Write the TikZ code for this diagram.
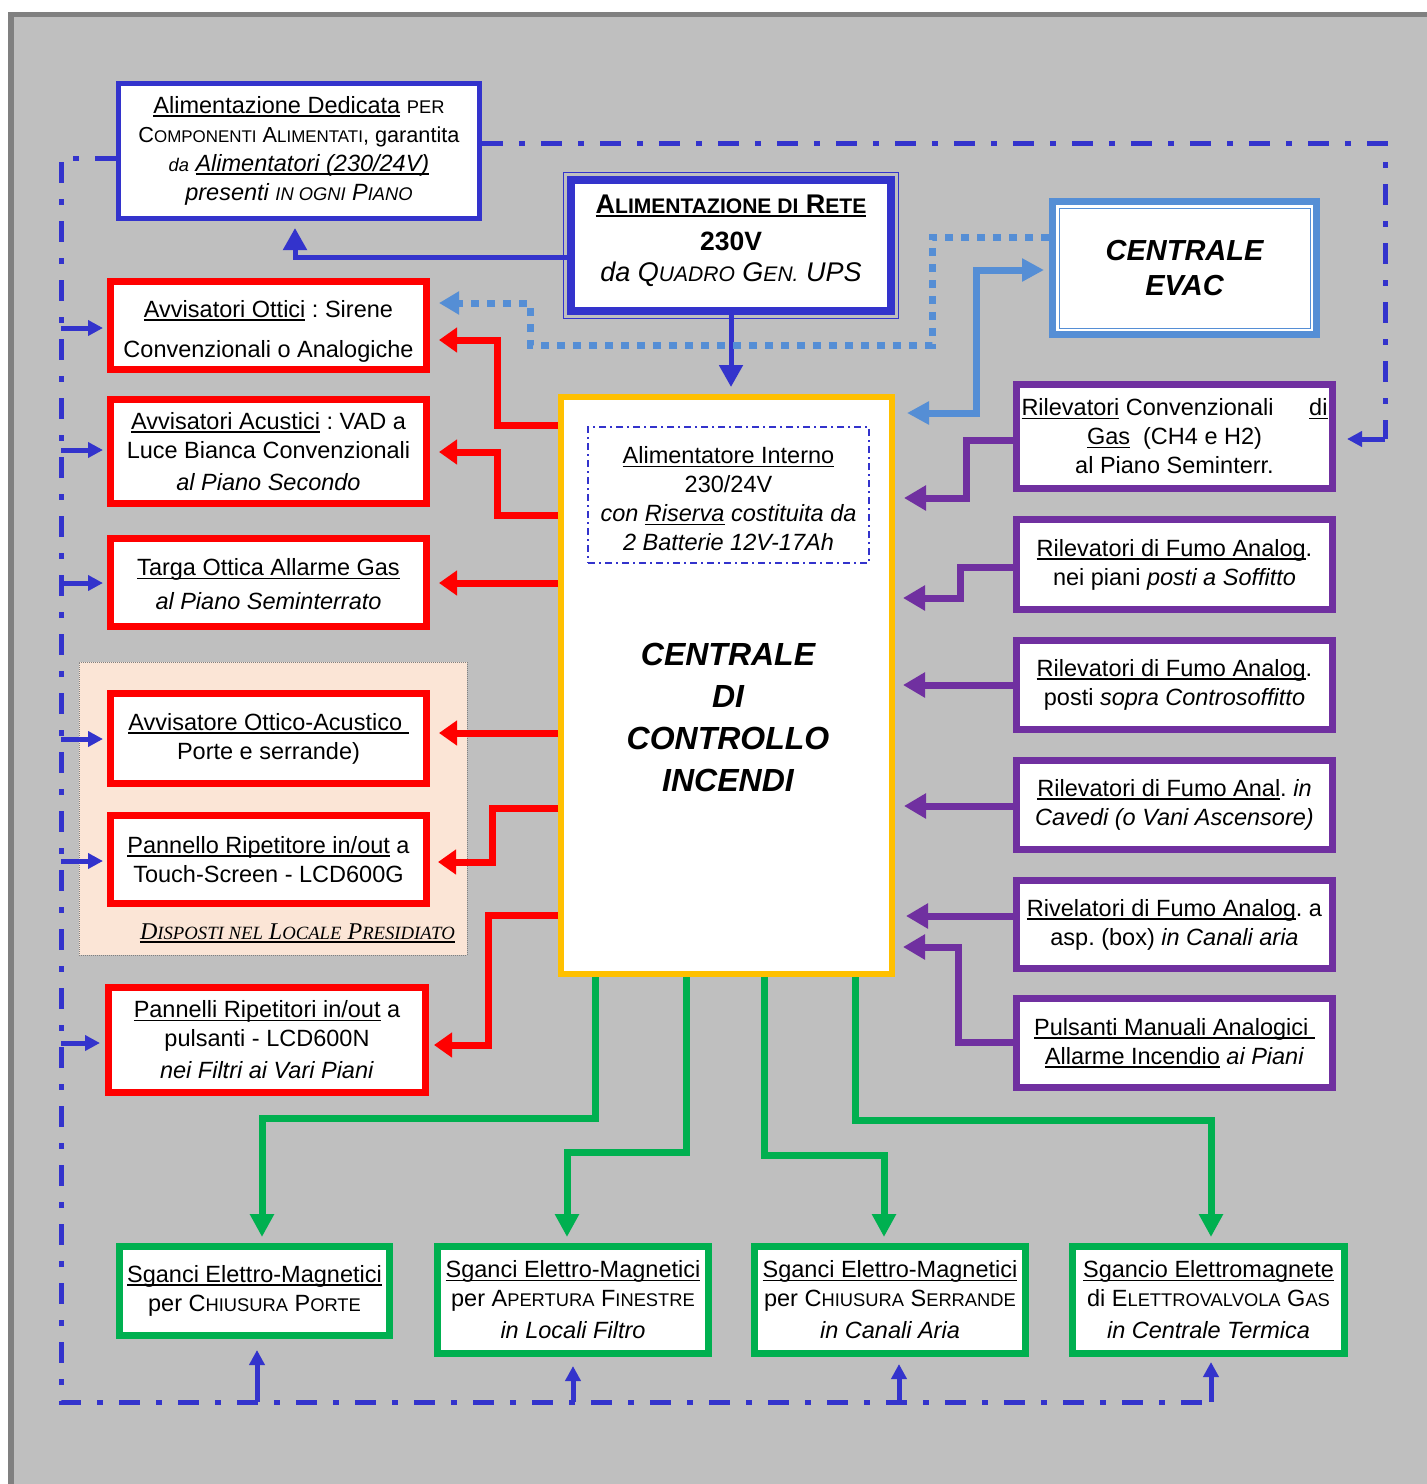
\documentclass[tikz,border=0pt]{standalone}
\usepackage{fontspec}
\setmainfont{Liberation Sans}
\newfontfamily\timesfont{Liberation Serif}
\usepackage{graphicx}
\usetikzlibrary{arrows.meta}

\definecolor{bggray}{HTML}{BFBFBF}
\definecolor{bordgray}{HTML}{808080}
\definecolor{fireblue}{HTML}{3333CC}
\definecolor{evacblue}{HTML}{558ED5}
\definecolor{firered}{HTML}{FF0000}
\definecolor{firepurple}{HTML}{7030A0}
\definecolor{firegreen}{HTML}{00B050}
\definecolor{fireyellow}{HTML}{FFC000}
\definecolor{peach}{HTML}{FBE5D6}

\newcommand{\smc}[1]{\scalebox{0.78}{#1}}
\newcommand{\undl}[1]{\leavevmode\setbox0=\hbox{#1}\rlap{\rule[-3.5pt]{\wd0}{1.8pt}}\box0\relax}
\frenchspacing

\tikzset{
  box/.style={rectangle, fill=white, align=center, inner sep=0pt, font=\fontsize{23.5}{29}\selectfont},
  boxsize/.style 2 args={minimum width=#1pt, minimum height=#2pt},
  redbox/.style={box, draw=firered, line width=7pt},
  purplebox/.style={box, draw=firepurple, line width=7pt},
  greenbox/.style={box, draw=firegreen, line width=7pt},
  redline/.style={draw=firered, line width=7pt, -{Triangle[length=18pt,width=24pt]}},
  purpleline/.style={draw=firepurple, line width=7pt, -{Triangle[length=22pt,width=24pt]}},
  greenline/.style={draw=firegreen, line width=7pt, -{Triangle[length=23pt,width=23pt]}},
  blueline/.style={draw=fireblue, line width=5pt, -{Triangle[length=22pt,width=23pt]}},
  evacline/.style={draw=evacblue, line width=7pt, {Triangle[length=22pt,width=22pt]}-{Triangle[length=22pt,width=22pt]}},
  evacdots/.style={draw=evacblue, line width=7pt, dash pattern=on 8pt off 8pt, -{Triangle[length=20pt,width=22pt]}},
  busline/.style={draw=fireblue, line width=5pt, dash pattern=on 21pt off 16pt on 6pt off 16pt},
  busarrow/.style={draw=fireblue, line width=5pt, -{Triangle[length=15pt,width=15pt]}}
}

\begin{document}
\begin{tikzpicture}[x=1pt,y=-1pt]

	\useasboundingbox (0,0) rectangle (1427,1484);
	\fill[white] (0,0) rectangle (1427,1484);
	\draw[draw=bordgray, fill=bggray, line width=5.5pt] (11,14.5) rectangle (1440,1500);

	\node[box, draw=fireblue, line width=5pt, boxsize={361}{135}] (dedicata) at (299,151)
		{\undl{Alimentazione Dedicata} \smc{PER}\\{\fontsize{21.7}{29}\selectfont C\smc{OMPONENTI} A\smc{LIMENTATI}, garantita}\\\textit{\smc{da} \undl{Alimentatori (230/24V)}}\\\textit{presenti \smc{IN OGNI} P\smc{IANO}}};
	\node[box, draw=fireblue, line width=8pt, boxsize={320}{131}, font=\fontsize{27}{31}\selectfont] (rete) at (731,245)
		{\textbf{\undl{A\smc{LIMENTAZIONE DI} R\smc{ETE}}}\\[6pt]{\fontsize{26.5}{31}\selectfont\textbf{230V}}\\\textit{da Q\smc{UADRO} G\smc{EN.} UPS}\rule[-14pt]{0pt}{14pt}};
	\draw[fireblue, line width=1pt] ([xshift=-3.5pt,yshift=3.5pt]rete.north west) rectangle ([xshift=3.5pt,yshift=-3.5pt]rete.south east);
	\node[box, draw=evacblue, line width=7pt, boxsize={264}{133}, font=\fontsize{29}{35}\selectfont\bfseries\itshape] (evac) at (1184.5,268) {CENTRALE\\EVAC};
	\draw[evacblue, line width=1pt] ([xshift=10pt,yshift=-10pt]evac.north west) rectangle ([xshift=-10pt,yshift=10pt]evac.south east);

	\node[box, draw=fireyellow, line width=6pt, boxsize={331}{577}] (cci) at (726.5,685.5) {};
	\node[box, draw=fireblue, line width=1.5pt, dash pattern=on 7pt off 4pt on 2pt off 4pt, boxsize={281}{136}] (alim) at (728.5,495)
		{\rule{0pt}{25pt}\undl{Alimentatore Interno}\\230/24V\\\textit{con \undl{Riserva} costituita da}\\\textit{2 Batterie 12V-17Ah}};
	\node[align=center, font=\fontsize{32}{42}\selectfont\bfseries\itshape] (ccitext) at (728,717) {CENTRALE\\DI\\CONTROLLO\\INCENDI};

	\node[rectangle, fill=peach, draw=gray, densely dotted, line width=1pt, minimum width=388pt, minimum height=293pt] (presidio) at (273,808.5) {};
	\node[anchor=base east, inner sep=0pt, font=\timesfont\itshape\fontsize{24}{28}\selectfont] (presidiotext) at (455,939)
		{\undl{D\smc{ISPOSTI NEL} L\smc{OCALE} P\smc{RESIDIATO}}};

	\node[redbox, boxsize={316}{88}] (ottici) at (268.5,325.5) {\rule{0pt}{29pt}\undl{Avvisatori Ottici} : Sirene\\[11pt]Convenzionali o Analogiche};
	\node[redbox, boxsize={316}{104}] (acustici) at (268.5,451.5) {\undl{Avvisatori Acustici} : VAD a\\Luce Bianca Convenzionali\\[3pt]\textit{al Piano Secondo}};
	\node[redbox, boxsize={316}{88}] (targa) at (268.5,582.5) {\rule{0pt}{21pt}\undl{Targa Ottica Allarme Gas}\\[5pt]\textit{al Piano Seminterrato}};
	\node[redbox, boxsize={316}{90}] (ottacu) at (268.5,738.5) {\undl{Avvisatore Ottico-Acustico\ }\\Porte e serrande)};
	\node[redbox, boxsize={316}{88}] (touch) at (268.5,859.5) {\undl{Pannello Ripetitore in/out} a\\Touch-Screen - LCD600G};
	\node[redbox, boxsize={317}{105}] (pulsrip) at (267,1040) {\undl{Pannelli Ripetitori in/out} a\\pulsanti - LCD600N\\[3pt]\textit{nei Filtri ai Vari Piani}};

	\node[purplebox, boxsize={316}{104}] (gas) at (1174.5,436.5)
		{\makebox[306pt]{\undl{Rilevatori} Convenzionali\hfill\undl{di}}\\\undl{Gas}\ \ (CH4 e H2)\\al Piano Seminterr.};
	\node[purplebox, boxsize={316}{90}] (soffitto) at (1174.5,564.5) {\undl{Rilevatori di Fumo Analog}.\\nei piani \textit{posti a Soffitto}};
	\node[purplebox, boxsize={316}{89}] (controsoff) at (1174.5,685) {\undl{Rilevatori di Fumo Analog}.\\posti \textit{sopra Controsoffitto}};
	\node[purplebox, boxsize={316}{89}] (cavedi) at (1174.5,805) {\undl{Rilevatori di Fumo Anal}. \textit{in}\\\textit{Cavedi (o Vani Ascensore)}};
	\node[purplebox, boxsize={316}{88}] (canali) at (1174.5,924.5) {\undl{Rivelatori di Fumo Analog}. a\\asp. (box) \textit{in Canali aria}};
	\node[purplebox, boxsize={316}{89}] (pulsanti) at (1174.5,1043) {\undl{Pulsanti Manuali Analogici\ }\\\undl{Allarme Incendio} \textit{ai Piani}};

	\node[greenbox, boxsize={270}{89}] (porte) at (254.5,1291) {\undl{Sganci Elettro-Magnetici}\\per C\smc{HIUSURA} P\smc{ORTE}};
	\node[greenbox, boxsize={271}{107}] (finestre) at (573,1300) {\undl{Sganci Elettro-Magnetici}\\per A\smc{PERTURA} F\smc{INESTRE}\\[3pt]\textit{in Locali Filtro}};
	\node[greenbox, boxsize={271}{107}] (serrande) at (890,1300) {\undl{Sganci Elettro-Magnetici}\\per C\smc{HIUSURA} S\smc{ERRANDE}\\[3pt]\textit{in Canali Aria}};
	\node[greenbox, boxsize={272}{107}] (termica) at (1208.5,1300) {\undl{Sgancio Elettromagnete}\\di E\smc{LETTROVALVOLA} G\smc{AS}\\[3pt]\textit{in Centrale Termica}};

	\coordinate (busL) at (61,158);
	\coordinate (busR) at (1385,143);
	\coordinate (busB) at (61,1402);
	\draw[busline] (dedicata.east |- busR) -- (busR) -- (busR |- 0,439);
	\draw[busarrow, shorten >=11pt] (busR |- 0,439) -- (gas.east |- 0,439);
	\draw[busline] (dedicata.west |- busL) -- (busL) -- (busB) -- (busB -| 1211,0);
	\foreach \y/\tgt/\s in {328/ottici/4, 450/acustici/4, 583/targa/4, 739/ottacu/4, 861/touch/4, 1043/pulsrip/5}
		\draw[busarrow, shorten >=\s pt] (busL |- 0,\y) -- (\tgt.west |- 0,\y);
	\foreach \x/\tgt/\s in {257/porte/11, 573/finestre/9, 899/serrande/7, 1211/termica/5}
		\draw[busarrow, shorten >=\s pt] (busB -| \x,0) -- (\tgt.south -| \x,0);

	\draw[blueline, shorten >=7pt] (rete.west |- 0,257) -| (dedicata.south -| 295,0);
	\draw[blueline, shorten >=7pt] (rete.south) -- (rete.south |- cci.north);

	\draw[evacdots, shorten >=9pt] (evac.west |- 0,237) -| (932,345) -| (530,303) -- (ottici.east |- 0,303);
	\draw[evacline, shorten <=5pt, shorten >=12pt] (evac.west |- 0,270) -| (976,413) -- (cci.east |- 0,413);

	\draw[redline, shorten >=9pt] (cci.west |- 0,425) -| (497,340) -- (ottici.east |- 0,340);
	\draw[redline, shorten >=9pt] (cci.west |- 0,515) -| (497,452) -- (acustici.east |- 0,452);
	\draw[redline, shorten >=9pt] (cci.west |- 0,583) -- (targa.east |- 0,583);
	\draw[redline, shorten >=9pt] (cci.west |- 0,733) -- (ottacu.east |- 0,733);
	\draw[redline, shorten >=8pt] (cci.west |- 0,808) -| (492,862) -- (touch.east |- 0,862);
	\draw[redline, shorten >=5pt] (cci.west |- 0,915) -| (488,1045) -- (pulsrip.east |- 0,1045);

	\draw[purpleline, shorten >=9pt] (gas.west |- 0,440) -| (966,498) -- (cci.east |- 0,498);
	\draw[purpleline, shorten >=8pt] (soffitto.west |- 0,567) -| (960,598) -- (cci.east |- 0,598);
	\draw[purpleline, shorten >=8pt] (controsoff.west |- 0,685) -- (cci.east |- 0,685);
	\draw[purpleline, shorten >=9pt] (cavedi.west |- 0,806) -- (cci.east |- 0,806);
	\draw[purpleline, shorten >=11pt] (canali.west |- 0,916) -- (cci.east |- 0,916);
	\draw[purpleline, shorten >=8pt] (pulsanti.west |- 0,1042) -| (958,947) -- (cci.east |- 0,947);

	\draw[greenline, shorten >=6pt] (cci.south -| 595,0) |- (262,1118) -- (porte.north -| 262,0);
	\draw[greenline, shorten >=6pt] (cci.south -| 686,0) |- (567,1152) -- (finestre.north -| 567,0);
	\draw[greenline, shorten >=6pt] (cci.south -| 764,0) |- (884,1155) -- (serrande.north -| 884,0);
	\draw[greenline, shorten >=6pt] (cci.south -| 855,0) |- (1211,1120) -- (termica.north -| 1211,0);

\end{tikzpicture}
\end{document}
